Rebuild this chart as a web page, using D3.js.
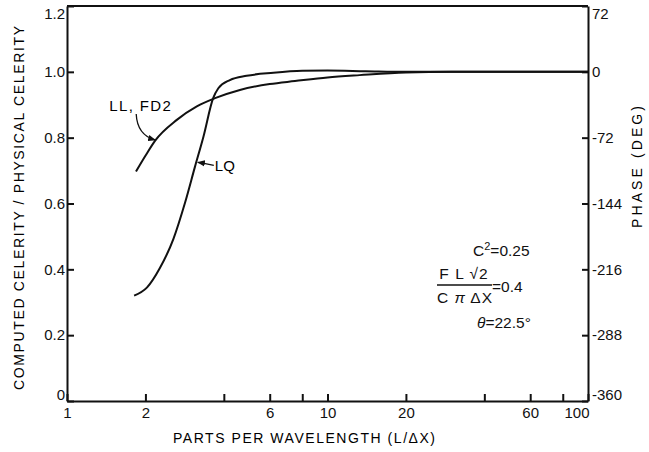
<!DOCTYPE html>
<html>
<head>
<meta charset="utf-8">
<script src="https://cdn.jsdelivr.net/npm/d3@7"></script>
<style>
  body { margin: 0; background: #fff; }
  svg { font-family: "Liberation Sans", Arial, sans-serif; }
  .axis path, .axis line { stroke: #111; stroke-width: 2; }
  .axis text { font-size: 15px; fill: #111; }
</style>
</head>
<body>
<script>
// parts per wavelength (L/dx) and computed / physical celerity
var llX = [1.84, 2.0, 2.18, 2.64, 3.15, 3.7, 4.61, 6.0, 7.5, 10, 13.3, 20, 30, 100];
var llY = [0.697, 0.745, 0.791, 0.854, 0.895, 0.92, 0.945, 0.963, 0.972, 0.983, 0.99, 0.998, 1.0, 1.0];
var lqX = [1.81, 2.03, 2.27, 2.56, 2.84, 3.1, 3.34, 3.64, 3.81, 4.22, 4.89, 6.2, 8, 10, 14, 20, 100];
var lqY = [0.32, 0.345, 0.403, 0.492, 0.603, 0.712, 0.803, 0.92, 0.95, 0.975, 0.988, 0.997, 1.003, 1.004, 1.002, 1.0, 1.0];

var xTicks = [1, 2, 4, 6, 8, 10, 20, 40, 60, 80, 100];
var xLabels = [1, 2, 6, 10, 20, 60, 100];
var yTicks = [0, 0.2, 0.4, 0.6, 0.8, 1.0, 1.2];
var phaseTicks = [-360, -288, -216, -144, -72, 0, 72];

var width = 649, height = 452;
var margin = {top: 6, right: 61, bottom: 51, left: 67};

var svg = d3.select("body").append("svg")
    .attr("width", width)
    .attr("height", height);

var x = d3.scaleLog().domain([1, 100]).range([margin.left, width - margin.right]);
var y = d3.scaleLinear().domain([0, 1.2]).range([height - margin.bottom, margin.top]);
var yPhase = d3.scaleLinear().domain([-360, 72]).range([height - margin.bottom, margin.top]);

// axes (ticks point inward)
var gx = svg.append("g").attr("class", "axis")
  .attr("transform", "translate(0," + y(0) + ")")
  .call(d3.axisBottom(x).tickValues(xTicks).tickSize(-7).tickSizeOuter(0).tickPadding(6)
    .tickFormat(function(d) { return xLabels.indexOf(d) >= 0 ? d : ""; }));
gx.selectAll(".tick text").filter(function(d) { return d == 100; })
  .attr("text-anchor", "end").attr("dx", 1);

var gl = svg.append("g").attr("class", "axis")
  .attr("transform", "translate(" + x(1) + ",0)")
  .call(d3.axisLeft(y).tickValues(yTicks).tickSize(-7).tickSizeOuter(0).tickPadding(2)
    .tickFormat(function(d) { return d == 0 ? "0" : d3.format(".1f")(d); }));

var gr = svg.append("g").attr("class", "axis")
  .attr("transform", "translate(" + x(100) + ",0)")
  .call(d3.axisRight(yPhase).tickValues(phaseTicks).tickSize(-6).tickSizeOuter(0).tickPadding(4)
    .tickFormat(function(d) { return d < 0 ? "-" + Math.abs(d) : d; }));

// end labels sit inside the frame
gl.selectAll(".tick text").filter(function(d) { return d == 0; }).attr("dy", "-0.1em");
gl.selectAll(".tick text").filter(function(d) { return d == 1.2; }).attr("dy", "0.85em");
gr.selectAll(".tick text").filter(function(d) { return d == -360; }).attr("dy", "-0.1em");
gr.selectAll(".tick text").filter(function(d) { return d == 72; }).attr("dy", "0.85em");

// top frame
svg.append("line")
  .attr("x1", x(1)).attr("x2", x(100))
  .attr("y1", y(1.2)).attr("y2", y(1.2))
  .attr("stroke", "#111").attr("stroke-width", 2);

// axis titles
svg.append("text")
  .attr("x", 304).attr("y", 443)
  .attr("text-anchor", "middle")
  .attr("font-size", 14)
  .attr("textLength", 262).attr("lengthAdjust", "spacing")
  .text("PARTS PER WAVELENGTH (L/ΔX)");

svg.append("text")
  .attr("transform", "translate(24,208) rotate(-90)")
  .attr("text-anchor", "middle")
  .attr("font-size", 14)
  .attr("textLength", 364).attr("lengthAdjust", "spacing")
  .text("COMPUTED CELERITY / PHYSICAL CELERITY");

svg.append("text")
  .attr("transform", "translate(642,167) rotate(-90)")
  .attr("text-anchor", "middle")
  .attr("font-size", 14)
  .attr("textLength", 122).attr("lengthAdjust", "spacing")
  .text("PHASE (DEG)");

// curves
var line = d3.line()
  .x(function(d) { return x(d[0]); })
  .y(function(d) { return y(d[1]); })
  .curve(d3.curveMonotoneX);

svg.append("path")
  .datum(d3.zip(llX, llY))
  .attr("d", line)
  .attr("fill", "none").attr("stroke", "#111").attr("stroke-width", 2);

svg.append("path")
  .datum(d3.zip(lqX, lqY))
  .attr("d", line)
  .attr("fill", "none").attr("stroke", "#111").attr("stroke-width", 2);

// labels with leader arrows
svg.append("defs").append("marker")
  .attr("id", "arr").attr("viewBox", "0 0 10 10")
  .attr("refX", 9).attr("refY", 5)
  .attr("markerWidth", 6).attr("markerHeight", 6)
  .attr("orient", "auto")
  .append("path").attr("d", "M0,1 L10,5 L0,9 z").attr("fill", "#111");

var llTip = [x(2.2), y(0.79)];
svg.append("path")
  .attr("d", "M" + (llTip[0] - 20) + "," + (llTip[1] - 27) +
    " Q" + (llTip[0] - 19) + "," + (llTip[1] - 6) + " " + (llTip[0] - 1) + "," + (llTip[1] - 1))
  .attr("fill", "none").attr("stroke", "#111").attr("stroke-width", 1.3)
  .attr("marker-end", "url(#arr)");
svg.append("text")
  .attr("x", llTip[0] - 47).attr("y", llTip[1] - 30)
  .attr("font-size", 15)
  .attr("letter-spacing", 1.4)
  .text("LL, FD2");

var lqTip = [x(3.15), y(0.725)];
svg.append("path")
  .attr("d", "M" + (lqTip[0] + 17) + "," + (lqTip[1] + 3) +
    " Q" + (lqTip[0] + 8) + "," + (lqTip[1] + 1) + " " + (lqTip[0] + 1) + "," + lqTip[1])
  .attr("fill", "none").attr("stroke", "#111").attr("stroke-width", 1.3)
  .attr("marker-end", "url(#arr)");
svg.append("text")
  .attr("x", lqTip[0] + 18).attr("y", lqTip[1] + 9)
  .attr("font-size", 15)
  .text("LQ");

// parameter block
var note = svg.append("g").attr("font-size", 15.5).attr("fill", "#111");
var c2 = note.append("text").attr("x", 473).attr("y", 256);
c2.append("tspan").text("C");
c2.append("tspan").attr("font-size", 11).attr("dy", -6).text("2");
c2.append("tspan").attr("dy", 6).text("=0.25");

note.append("text").attr("x", 464).attr("y", 279).attr("text-anchor", "middle")
  .attr("letter-spacing", 1)
  .text("F  L √2");
note.append("line").attr("x1", 437).attr("x2", 492).attr("y1", 285).attr("y2", 285)
  .attr("stroke", "#111").attr("stroke-width", 1.3);
var den = note.append("text").attr("x", 465).attr("y", 303).attr("text-anchor", "middle")
  .attr("letter-spacing", 1);
den.append("tspan").text("C ");
den.append("tspan").attr("font-style", "italic").text("π");
den.append("tspan").text(" ΔX");
note.append("text").attr("x", 492).attr("y", 292).text("=0.4");

var th = note.append("text").attr("x", 477).attr("y", 328);
th.append("tspan").attr("font-style", "italic").text("θ");
th.append("tspan").text("=22.5°");
</script>
</body>
</html>
